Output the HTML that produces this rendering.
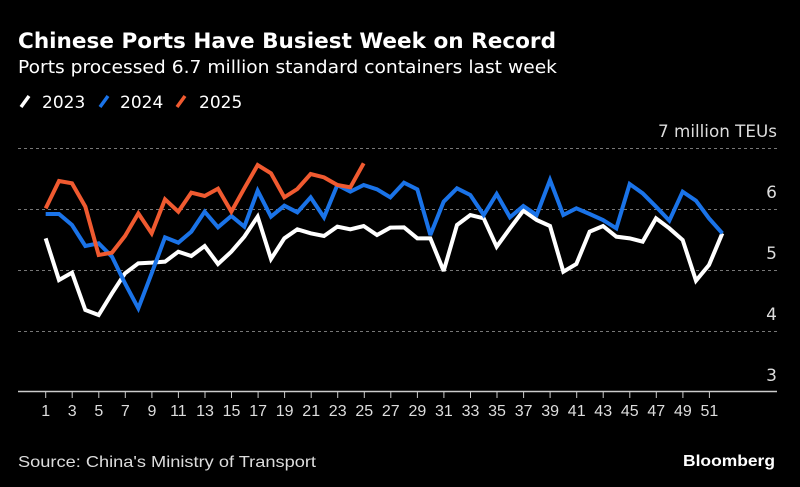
<!DOCTYPE html>
<html><head><meta charset="utf-8"><style>
html,body{margin:0;padding:0;background:#000;width:800px;height:487px;overflow:hidden}
</style></head><body>
<svg width="800" height="487" viewBox="0 0 800 487" xmlns="http://www.w3.org/2000/svg" style="display:block">
<rect width="800" height="487" fill="#000"/>
<text x="18" y="48" font-family="DejaVu Sans, sans-serif" font-weight="bold" font-size="21" fill="#fff" textLength="538" lengthAdjust="spacingAndGlyphs">Chinese Ports Have Busiest Week on Record</text>
<text x="18" y="73" font-family="DejaVu Sans, sans-serif" font-size="18" fill="#fff" textLength="539" lengthAdjust="spacingAndGlyphs">Ports processed 6.7 million standard containers last week</text>
<g font-family="DejaVu Sans, sans-serif" font-size="17" fill="#fff">
<line x1="21" y1="107" x2="29" y2="96" stroke="#fff" stroke-width="3.5"/>
<text x="42" y="108">2023</text>
<line x1="100" y1="107" x2="108" y2="96" stroke="#1a73e8" stroke-width="3.5"/>
<text x="120" y="108">2024</text>
<line x1="177" y1="107" x2="185" y2="96" stroke="#f05a30" stroke-width="3.5"/>
<text x="199" y="108">2025</text>
</g>
<g stroke="#777" stroke-width="1" stroke-dasharray="3,3">
<line x1="18" y1="148.5" x2="777" y2="148.5"/>
<line x1="18" y1="209.5" x2="777" y2="209.5"/>
<line x1="18" y1="270.5" x2="777" y2="270.5"/>
<line x1="18" y1="331.5" x2="777" y2="331.5"/>
</g>
<line x1="18" y1="391.5" x2="777" y2="391.5" stroke="#ccc" stroke-width="1.5"/>
<g font-family="DejaVu Sans, sans-serif" font-size="17" fill="#ddd" text-anchor="end">
<text x="777" y="137" textLength="119" lengthAdjust="spacingAndGlyphs">7 million TEUs</text>
<text x="777" y="198">6</text>
<text x="777" y="259">5</text>
<text x="777" y="320">4</text>
<text x="777" y="381">3</text>
</g>
<g stroke="#ccc" stroke-width="1">
<line x1="45.7" y1="392" x2="45.7" y2="398"/><line x1="72.2" y1="392" x2="72.2" y2="398"/><line x1="98.8" y1="392" x2="98.8" y2="398"/><line x1="125.3" y1="392" x2="125.3" y2="398"/><line x1="151.9" y1="392" x2="151.9" y2="398"/><line x1="178.4" y1="392" x2="178.4" y2="398"/><line x1="205" y1="392" x2="205" y2="398"/><line x1="231.5" y1="392" x2="231.5" y2="398"/><line x1="258.1" y1="392" x2="258.1" y2="398"/><line x1="284.6" y1="392" x2="284.6" y2="398"/><line x1="311.2" y1="392" x2="311.2" y2="398"/><line x1="337.7" y1="392" x2="337.7" y2="398"/><line x1="364.3" y1="392" x2="364.3" y2="398"/><line x1="390.8" y1="392" x2="390.8" y2="398"/><line x1="417.4" y1="392" x2="417.4" y2="398"/><line x1="443.9" y1="392" x2="443.9" y2="398"/><line x1="470.5" y1="392" x2="470.5" y2="398"/><line x1="497" y1="392" x2="497" y2="398"/><line x1="523.6" y1="392" x2="523.6" y2="398"/><line x1="550.1" y1="392" x2="550.1" y2="398"/><line x1="576.7" y1="392" x2="576.7" y2="398"/><line x1="603.2" y1="392" x2="603.2" y2="398"/><line x1="629.8" y1="392" x2="629.8" y2="398"/><line x1="656.3" y1="392" x2="656.3" y2="398"/><line x1="682.9" y1="392" x2="682.9" y2="398"/><line x1="709.4" y1="392" x2="709.4" y2="398"/>
</g>
<g font-family="Liberation Sans Narrow, Liberation Sans, sans-serif" font-size="16" fill="#ddd" text-anchor="middle">
<text x="45.7" y="416">1</text><text x="72.2" y="416">3</text><text x="98.8" y="416">5</text><text x="125.3" y="416">7</text><text x="151.9" y="416">9</text><text x="178.4" y="416">11</text><text x="205" y="416">13</text><text x="231.5" y="416">15</text><text x="258.1" y="416">17</text><text x="284.6" y="416">19</text><text x="311.2" y="416">21</text><text x="337.7" y="416">23</text><text x="364.3" y="416">25</text><text x="390.8" y="416">27</text><text x="417.4" y="416">29</text><text x="443.9" y="416">31</text><text x="470.5" y="416">33</text><text x="497" y="416">35</text><text x="523.6" y="416">37</text><text x="550.1" y="416">39</text><text x="576.7" y="416">41</text><text x="603.2" y="416">43</text><text x="629.8" y="416">45</text><text x="656.3" y="416">47</text><text x="682.9" y="416">49</text><text x="709.4" y="416">51</text>
</g>
<g transform="translate(0,110) scale(0.3333333)" fill="none" stroke-width="12" stroke-linejoin="miter" stroke-miterlimit="3">
<polyline stroke="#ffffff" points="137,385 177,510 216,488 256,600 296,615 336,550 375,490 415,460 455,458 495,455 535,425 574,438 614,408 654,462 694,425 733,380 773,320 813,447 853,385 892,358 932,370 972,378 1012,350 1051,358 1091,348 1131,375 1171,353 1212,352 1252,385 1291,385 1331,483 1371,345 1411,315 1451,325 1490,410 1530,355 1570,302 1610,330 1650,348 1690,485 1729,462 1769,365 1809,348 1849,380 1889,385 1928,395 1968,325 2008,355 2048,390 2088,512 2127,465 2167,370"/>
<polyline stroke="#1a73e8" points="137,312 177,312 216,345 256,408 296,400 336,440 375,520 415,595 455,490 495,382 535,398 574,365 614,305 654,352 694,318 733,350 773,242 813,320 853,287 892,307 932,262 972,322 1012,225 1051,245 1091,225 1131,238 1171,262 1212,218 1252,238 1291,375 1331,275 1371,235 1411,255 1451,315 1490,252 1530,322 1570,288 1610,315 1650,210 1690,315 1729,295 1769,312 1809,330 1849,355 1889,222 1928,250 1968,290 2008,332 2048,245 2088,272 2127,325 2167,370"/>
<polyline stroke="#f05a30" points="137,295 177,213 216,220 256,290 296,435 336,428 375,378 415,310 455,370 495,268 535,305 574,248 614,258 654,236 694,305 733,235 773,165 813,190 853,262 892,237 932,192 972,202 1012,225 1051,232 1091,160"/>
</g>
<text x="18" y="467" font-family="Liberation Sans Narrow, Liberation Sans, sans-serif" font-size="16" fill="#ddd" textLength="298" lengthAdjust="spacingAndGlyphs">Source: China's Ministry of Transport</text>
<text x="775" y="466" text-anchor="end" font-family="Liberation Sans, sans-serif" font-weight="bold" font-size="16" fill="#fff" textLength="92" lengthAdjust="spacingAndGlyphs">Bloomberg</text>
</svg>
</body></html>
